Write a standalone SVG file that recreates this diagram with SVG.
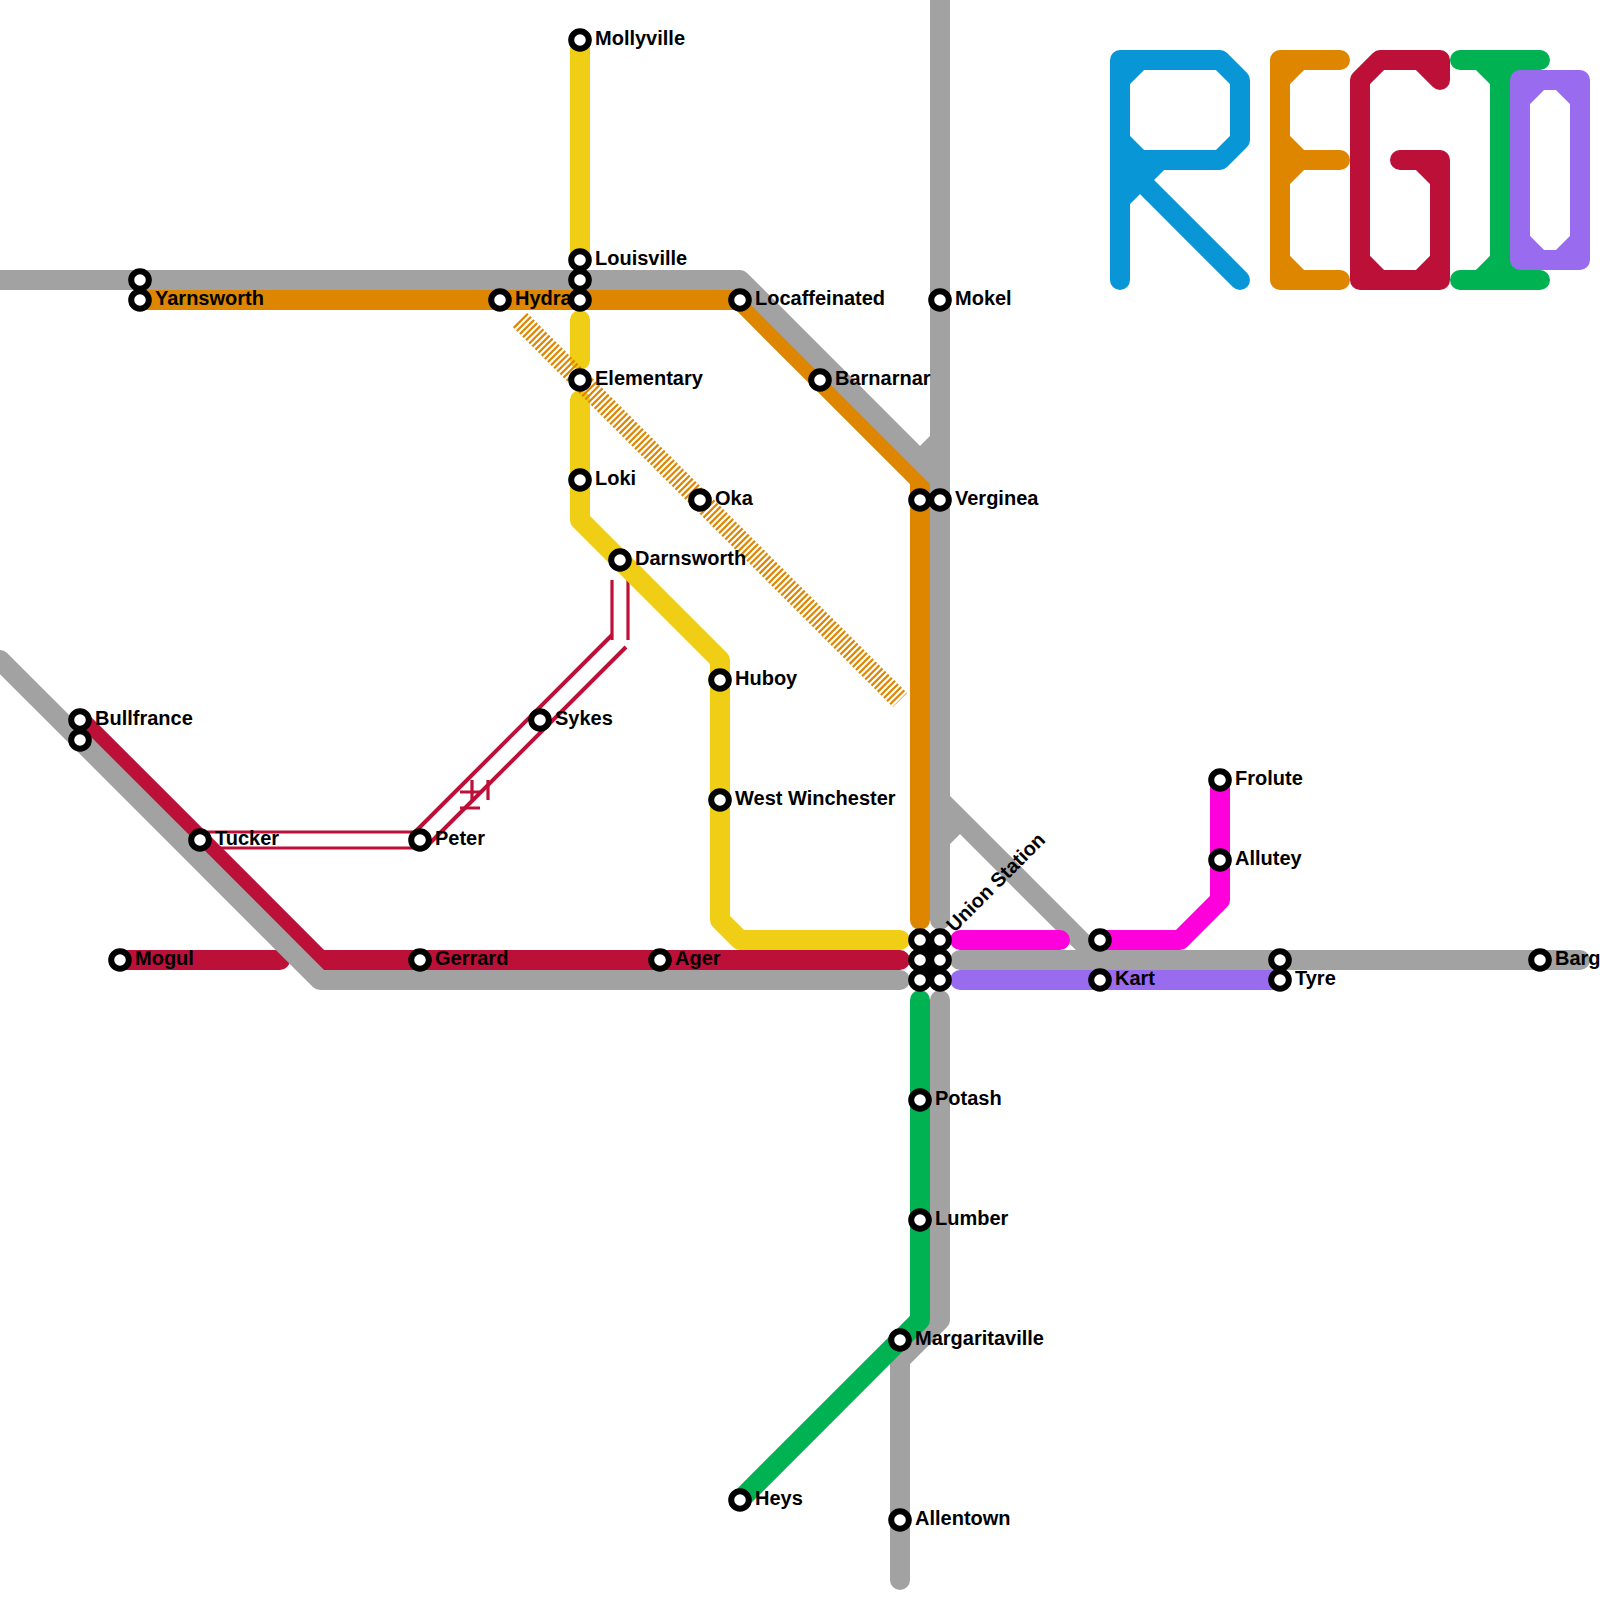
<svg xmlns="http://www.w3.org/2000/svg" width="1600" height="1600" viewBox="0 0 1600 1600">
<defs>
<style>
.l{fill:none;stroke-width:20;stroke-linecap:round;stroke-linejoin:round}
.or{stroke:#df8600}.re{stroke:#bd1038}.gr{stroke:#a2a2a2}.ye{stroke:#f0ce15}.gn{stroke:#00b251}.ma{stroke:#ff00dd}.pu{stroke:#996bee}.bl{stroke:#0896d7}
.h{fill:none;stroke:#df8600;stroke-width:20;stroke-dasharray:2.2 2.2}
.d{fill:none;stroke:#bd1038;stroke-width:3.2}
.dd{fill:none;stroke:#bd1038;stroke-width:4}
.st{fill:#fff;stroke:#000;stroke-width:6}
.t{font-family:"Liberation Sans",Arial,sans-serif;font-size:20px;font-weight:700;fill:#000}
</style>
</defs>
<rect width="1600" height="1600" fill="#fff"/>
<g id="connectors">
<path class="l or" d="M140 300H740L920 480V920"/>
<path class="l re" d="M120 960H280M80 720L320 960H900"/>
<g id="hollow-red">
<path class="d" d="M200 832H420M200 848H420M612 580V640M628 580V640M472 780V800M488 780V800M460 792H480M460 808H480"/>
<path class="dd" d="M414 833L612 635M425 848L626 647"/>
</g>
<path class="l gr" d="M0 280H740L940 480M0 660L320 980H900M940 0V920M940 440L920 460M940 800L1100 960M940 840L960 820M960 960H1580M940 1000V1320L900 1360V1580"/>
<path class="l ye" d="M580 40V260M580 320V360M580 400V520L720 660V920L740 940H900"/>
<path class="h" d="M520 320L900 700"/>
<path class="l gn" d="M920 1000V1320L740 1500"/>
<path class="l ma" d="M960 940H1060M1100 940H1180L1220 900V780"/>
<path class="l pu" d="M960 980H1280"/>
</g>
<g id="logo">
<path class="l bl" d="M1120 280V60H1220L1240 80V140L1220 160H1120M1120 80L1140 60M1120 140L1140 160M1120 200L1160 160M1120 160L1240 280"/>
<path class="l or" d="M1340 60H1280V280H1340M1280 160H1340M1280 80L1300 60M1280 140L1300 160M1280 180L1300 160M1280 260L1300 280"/>
<path class="l re" d="M1440 80L1420 60H1380L1360 80V280H1440V160H1400M1440 60V80M1420 60H1440M1420 160L1440 180M1360 260L1380 280M1420 280L1440 260"/>
<path class="l gn" d="M1460 60H1540M1460 280H1540M1500 60V280M1480 60L1500 80M1520 60L1500 80M1480 280L1500 260M1520 280L1500 260"/>
<path class="l pu" d="M1520 80H1580V260H1520ZM1520 100L1540 80M1560 80L1580 100M1520 240L1540 260M1560 260L1580 240"/>
</g>
<g id="union-cluster"><rect x="920" y="940" width="20" height="40" fill="#000"/></g>
<g id="n-mollyville"><circle class="st" cx="580" cy="40" r="8.8"/><text class="t" x="595" y="45">Mollyville</text></g>
<g id="n-yarnsworth-top"><circle class="st" cx="140" cy="280" r="8.8"/></g>
<g id="n-yarnsworth"><circle class="st" cx="140" cy="300" r="8.8"/><text class="t" x="155" y="305">Yarnsworth</text></g>
<g id="n-hydra"><circle class="st" cx="500" cy="300" r="8.8"/><text class="t" x="515" y="305">Hydra</text></g>
<g id="n-louisville"><circle class="st" cx="580" cy="260" r="8.8"/><text class="t" x="595" y="265">Louisville</text></g>
<g id="n-louisville-2"><circle class="st" cx="580" cy="280" r="8.8"/></g>
<g id="n-louisville-3"><circle class="st" cx="580" cy="300" r="8.8"/></g>
<g id="n-locaffeinated"><circle class="st" cx="740" cy="300" r="8.8"/><text class="t" x="755" y="305">Locaffeinated</text></g>
<g id="n-barnarnar"><circle class="st" cx="820" cy="380" r="8.8"/><text class="t" x="835" y="385">Barnarnar</text></g>
<g id="n-mokel"><circle class="st" cx="940" cy="300" r="8.8"/><text class="t" x="955" y="305">Mokel</text></g>
<g id="n-verginea-2"><circle class="st" cx="920" cy="500" r="8.8"/></g>
<g id="n-verginea"><circle class="st" cx="940" cy="500" r="8.8"/><text class="t" x="955" y="505">Verginea</text></g>
<g id="n-elementary"><circle class="st" cx="580" cy="380" r="8.8"/><text class="t" x="595" y="385">Elementary</text></g>
<g id="n-loki"><circle class="st" cx="580" cy="480" r="8.8"/><text class="t" x="595" y="485">Loki</text></g>
<g id="n-oka"><circle class="st" cx="700" cy="500" r="8.8"/><text class="t" x="715" y="505">Oka</text></g>
<g id="n-darnsworth"><circle class="st" cx="620" cy="560" r="8.8"/><text class="t" x="635" y="565">Darnsworth</text></g>
<g id="n-huboy"><circle class="st" cx="720" cy="680" r="8.8"/><text class="t" x="735" y="685">Huboy</text></g>
<g id="n-west-winchester"><circle class="st" cx="720" cy="800" r="8.8"/><text class="t" x="735" y="805">West Winchester</text></g>
<g id="n-bullfrance-2"><circle class="st" cx="80" cy="740" r="8.8"/></g>
<g id="n-bullfrance"><circle class="st" cx="80" cy="720" r="8.8"/><text class="t" x="95" y="725">Bullfrance</text></g>
<g id="n-tucker"><circle class="st" cx="200" cy="840" r="8.8"/><text class="t" x="215" y="845">Tucker</text></g>
<g id="n-peter"><circle class="st" cx="420" cy="840" r="8.8"/><text class="t" x="435" y="845">Peter</text></g>
<g id="n-sykes"><circle class="st" cx="540" cy="720" r="8.8"/><text class="t" x="555" y="725">Sykes</text></g>
<g id="n-mogul"><circle class="st" cx="120" cy="960" r="8.8"/><text class="t" x="135" y="965">Mogul</text></g>
<g id="n-gerrard"><circle class="st" cx="420" cy="960" r="8.8"/><text class="t" x="435" y="965">Gerrard</text></g>
<g id="n-ager"><circle class="st" cx="660" cy="960" r="8.8"/><text class="t" x="675" y="965">Ager</text></g>
<g id="n-union-1"><circle class="st" cx="920" cy="940" r="8.8"/></g>
<g id="n-union-station"><circle class="st" cx="940" cy="940" r="8.8"/><text class="t" transform="translate(954.5 933) rotate(-45)">Union Station</text></g>
<g id="n-union-3"><circle class="st" cx="920" cy="960" r="8.8"/></g>
<g id="n-union-4"><circle class="st" cx="940" cy="960" r="8.8"/></g>
<g id="n-union-5"><circle class="st" cx="920" cy="980" r="8.8"/></g>
<g id="n-union-6"><circle class="st" cx="940" cy="980" r="8.8"/></g>
<g id="n-kart-2"><circle class="st" cx="1100" cy="940" r="8.8"/></g>
<g id="n-kart"><circle class="st" cx="1100" cy="980" r="8.8"/><text class="t" x="1115" y="985">Kart</text></g>
<g id="n-tyre-2"><circle class="st" cx="1280" cy="960" r="8.8"/></g>
<g id="n-tyre"><circle class="st" cx="1280" cy="980" r="8.8"/><text class="t" x="1295" y="985">Tyre</text></g>
<g id="n-barg"><circle class="st" cx="1540" cy="960" r="8.8"/><text class="t" x="1555" y="965">Barg</text></g>
<g id="n-frolute"><circle class="st" cx="1220" cy="780" r="8.8"/><text class="t" x="1235" y="785">Frolute</text></g>
<g id="n-allutey"><circle class="st" cx="1220" cy="860" r="8.8"/><text class="t" x="1235" y="865">Allutey</text></g>
<g id="n-potash"><circle class="st" cx="920" cy="1100" r="8.8"/><text class="t" x="935" y="1105">Potash</text></g>
<g id="n-lumber"><circle class="st" cx="920" cy="1220" r="8.8"/><text class="t" x="935" y="1225">Lumber</text></g>
<g id="n-margaritaville"><circle class="st" cx="900" cy="1340" r="8.8"/><text class="t" x="915" y="1345">Margaritaville</text></g>
<g id="n-heys"><circle class="st" cx="740" cy="1500" r="8.8"/><text class="t" x="755" y="1505">Heys</text></g>
<g id="n-allentown"><circle class="st" cx="900" cy="1520" r="8.8"/><text class="t" x="915" y="1525">Allentown</text></g>
</svg>
